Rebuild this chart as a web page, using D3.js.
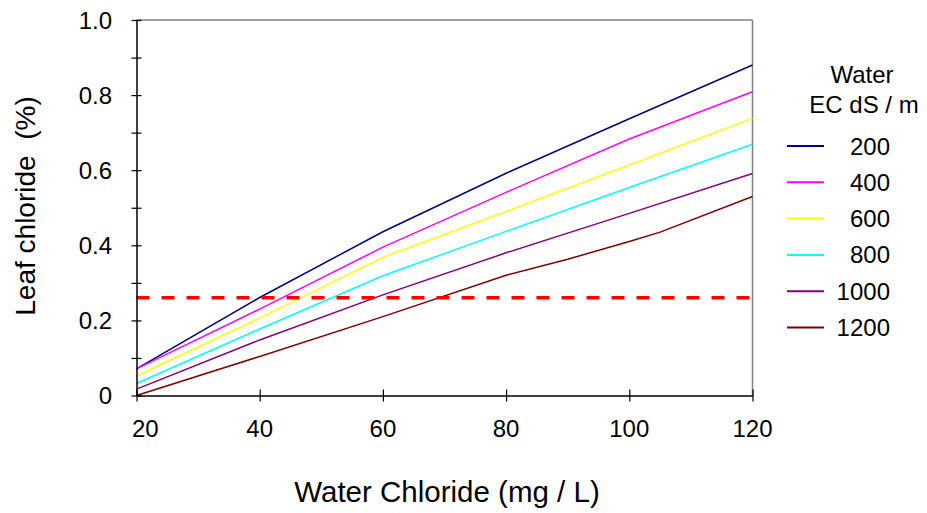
<!DOCTYPE html>
<html>
<head>
<meta charset="utf-8">
<script src="https://cdn.jsdelivr.net/npm/d3@7"></script>
<style>
  body { margin: 0; background: #fff; }
  text { font-family: "Liberation Sans", Arial, sans-serif; fill: #000; }
</style>
</head>
<body>
<div id="chart"></div>
<script>
// Dữ liệu của biểu đồ
const xValues = [20, 40, 60, 80, 100, 120];
const ecLevels = ['200', '400', '600', '800', '1000', '1200'];
const colors = ['#000080', '#ff00ff', '#ffff00', '#00ffff', '#800080', '#800000'];
const ec200 = [0.071, 0.261, 0.436, 0.592, 0.737, 0.880];
const ec400 = [0.071, 0.230, 0.395, 0.541, 0.683, 0.809];
const ec600 = [0.052, 0.206, 0.368, 0.490, 0.614, 0.738];
const ec800 = [0.032, 0.177, 0.319, 0.437, 0.554, 0.669];
const ec1000 = [0.017, 0.148, 0.268, 0.380, 0.485, 0.591];
// đường 1200 có thêm vài điểm gãy
const x1200 = [20, 40, 60, 80, 90, 100, 105, 120];
const ec1200 = [0.000, 0.104, 0.210, 0.320, 0.363, 0.410, 0.435, 0.530];
const threshold = 0.26;
const xTicks = [20, 40, 60, 80, 100, 120];
const yTicks = [0, 0.2, 0.4, 0.6, 0.8, 1.0];

const series = [
    { name: ecLevels[0], xs: xValues, ys: ec200 },
    { name: ecLevels[1], xs: xValues, ys: ec400 },
    { name: ecLevels[2], xs: xValues, ys: ec600 },
    { name: ecLevels[3], xs: xValues, ys: ec800 },
    { name: ecLevels[4], xs: xValues, ys: ec1000 },
    { name: ecLevels[5], xs: x1200, ys: ec1200 }
];

const width = 927, height = 513;
const plotLeft = 136.5, plotRight = 752.5, plotTop = 20, plotBottom = 395.5;

const svg = d3.select('#chart').append('svg')
    .attr('width', width)
    .attr('height', height);

const x = d3.scaleLinear().domain([20, 120]).range([plotLeft, plotRight]);
const y = d3.scaleLinear().domain([0, 1]).range([plotBottom, plotTop]);

// Khung xám phía trên và bên phải
svg.append('line')
    .attr('x1', plotLeft).attr('x2', plotRight).attr('y1', plotTop).attr('y2', plotTop)
    .attr('stroke', '#808080').attr('stroke-width', 1.5);
svg.append('line')
    .attr('x1', plotRight).attr('x2', plotRight).attr('y1', plotTop).attr('y2', plotBottom)
    .attr('stroke', '#808080').attr('stroke-width', 1.5);

// Các đường dữ liệu
const line = d3.line().x(d => x(d[0])).y(d => y(d[1]));
svg.append('g')
    .selectAll('path')
    .data(series)
    .enter().append('path')
    .attr('fill', 'none')
    .attr('stroke', (d, i) => colors[i])
    .attr('stroke-width', 1.5)
    .attr('d', d => line(d.xs.map((v, i) => [v, d.ys[i]])));

// Đường ngưỡng đỏ nét đứt
svg.append('line')
    .attr('x1', x(20)).attr('x2', x(120) - 2)
    .attr('y1', y(threshold)).attr('y2', y(threshold))
    .attr('stroke', '#ff0000')
    .attr('stroke-width', 3.5)
    .attr('stroke-dasharray', '13,12');

// Trục Y
const yAxis = d3.axisLeft(y)
    .tickValues(d3.range(0, 1.01, 0.1))
    .tickSizeInner(5).tickSizeOuter(0)
    .tickFormat(d => '');
const gy = svg.append('g').attr('transform', `translate(${plotLeft},0)`).call(yAxis);
gy.select('.domain').attr('stroke', '#000').attr('stroke-width', 1.5);
gy.selectAll('.tick line').attr('x2', 5).attr('x1', -5).attr('stroke', '#000').attr('stroke-width', 1.2);

svg.append('g')
    .selectAll('text')
    .data(yTicks)
    .enter().append('text')
    .attr('x', 112)
    .attr('y', d => y(d) + 8.5)
    .attr('text-anchor', 'end')
    .attr('font-size', 24)
    .text(d => d === 0 ? '0' : d.toFixed(1));

// Trục X
const xAxis = d3.axisBottom(x)
    .tickValues(xTicks)
    .tickSizeOuter(0)
    .tickFormat(d => '');
const gx = svg.append('g').attr('transform', `translate(0,${plotBottom})`).call(xAxis);
gx.select('.domain').attr('stroke', '#000').attr('stroke-width', 1.5);
gx.selectAll('.tick line').attr('y1', -6).attr('y2', 6).attr('stroke', '#000').attr('stroke-width', 1.2);

// nhãn "20" hơi lệch sang phải như trong ảnh gốc
svg.append('g')
    .selectAll('text')
    .data(xTicks)
    .enter().append('text')
    .attr('x', (d, i) => i === 0 ? x(d) - 4.5 : x(d))
    .attr('y', 437)
    .attr('text-anchor', (d, i) => i === 0 ? 'start' : 'middle')
    .attr('font-size', 24)
    .text(d => d);

// Tiêu đề trục
svg.append('text')
    .attr('x', 447).attr('y', 502)
    .attr('text-anchor', 'middle')
    .attr('font-size', 29.5)
    .text('Water Chloride (mg / L)');

svg.append('text')
    .attr('transform', 'translate(35,206) rotate(-90)')
    .attr('text-anchor', 'middle')
    .attr('font-size', 28)
    .style('white-space', 'pre')
    .text('Leaf chloride  (%)');

// Chú giải
svg.append('text')
    .attr('x', 862).attr('y', 83)
    .attr('text-anchor', 'middle')
    .attr('font-size', 24)
    .text('Water');
svg.append('text')
    .attr('x', 864).attr('y', 113)
    .attr('text-anchor', 'middle')
    .attr('font-size', 24)
    .text('EC dS / m');

const legend = svg.append('g')
    .selectAll('g')
    .data(ecLevels)
    .enter().append('g')
    .attr('transform', (d, i) => `translate(0,${146 + i * 36.3})`);
legend.append('line')
    .attr('x1', 787).attr('x2', 824)
    .attr('stroke', (d, i) => colors[i])
    .attr('stroke-width', 2);
legend.append('text')
    .attr('x', 890).attr('y', 8.5)
    .attr('text-anchor', 'end')
    .attr('font-size', 24)
    .text(d => d);
</script>
</body>
</html>
